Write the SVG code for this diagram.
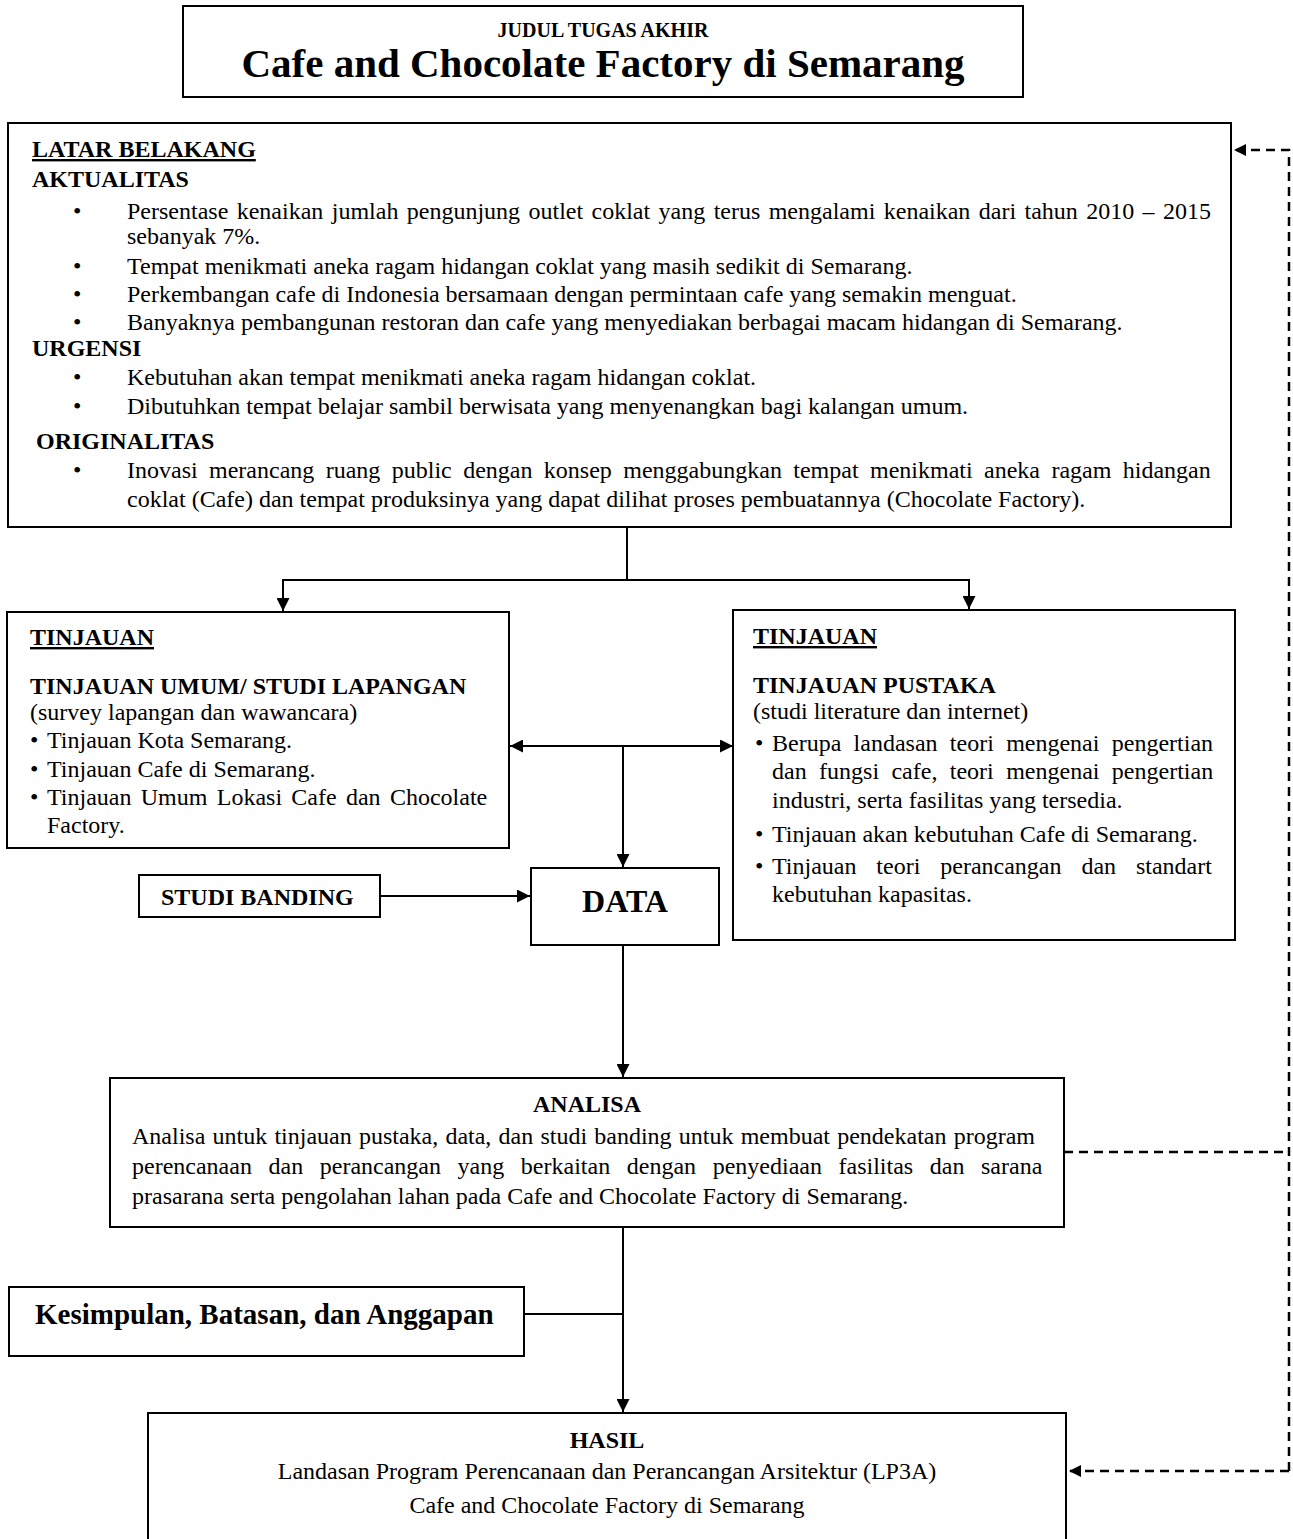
<svg xmlns="http://www.w3.org/2000/svg" width="1293" height="1539" viewBox="0 0 1293 1539">
<defs>
<marker id="arr" viewBox="0 0 10 10" refX="10" refY="5" markerWidth="13" markerHeight="13" markerUnits="userSpaceOnUse" orient="auto-start-reverse"><path d="M0,0 L10,5 L0,10 z" fill="#000"/></marker>
<marker id="arrd" viewBox="0 0 10 10" refX="10" refY="5" markerWidth="12" markerHeight="12" markerUnits="userSpaceOnUse" orient="auto"><path d="M0,0 L10,5 L0,10 z" fill="#000"/></marker>
<style>
.box{fill:#fff;stroke:#000;stroke-width:2}
.t{font-family:"Liberation Serif","Times New Roman",serif;font-size:24px;fill:#000}
.b{font-weight:bold}
.u{text-decoration:underline}
.c{text-anchor:middle}
.ln{fill:none;stroke:#000;stroke-width:2}
.dl{fill:none;stroke:#000;stroke-width:2.5;stroke-dasharray:9 6}
</style>
</defs>
<rect width="1293" height="1539" fill="#fff"/>

<g id="connectors">
<polyline class="ln" points="627,527 627,580"/>
<polyline class="ln" points="627,580 283,580 283,611" marker-end="url(#arr)"/>
<polyline class="ln" points="627,580 969,580 969,609" marker-end="url(#arr)"/>
<line class="ln" x1="510" y1="746" x2="733" y2="746" marker-start="url(#arr)" marker-end="url(#arr)"/>
<line class="ln" x1="623" y1="746" x2="623" y2="867" marker-end="url(#arr)"/>
<line class="ln" x1="380" y1="896" x2="530" y2="896" marker-end="url(#arr)"/>
<line class="ln" x1="623" y1="945" x2="623" y2="1077" marker-end="url(#arr)"/>
<line class="ln" x1="623" y1="1227" x2="623" y2="1412" marker-end="url(#arr)"/>
<line class="ln" x1="524" y1="1314" x2="623" y2="1314"/>
<polyline class="dl" points="1064,1152 1289,1152"/>
<polyline class="dl" points="1289,1471 1289,150 1234,150" marker-end="url(#arrd)"/>
<polyline class="dl" points="1289,1471 1069,1471" marker-end="url(#arrd)"/>
</g>

<g id="judul">
<rect class="box" x="183" y="6" width="840" height="91"/>
<text class="t b c" x="603" y="37" style="font-size:20px">JUDUL TUGAS AKHIR</text>
<text class="t b c" x="603" y="77" style="font-size:41px">Cafe and Chocolate Factory di Semarang</text>
</g>

<g id="latar-belakang">
<rect class="box" x="8" y="123" width="1223" height="404"/>
<text class="t b u" x="32" y="157">LATAR BELAKANG</text>
<text class="t b" x="32" y="187">AKTUALITAS</text>
<text class="t" x="73" y="219">•</text>
<text class="t" x="127" y="219" word-spacing="2.4">Persentase kenaikan jumlah pengunjung outlet coklat yang terus mengalami kenaikan dari tahun 2010 – 2015</text>
<text class="t" x="127" y="244">sebanyak 7%.</text>
<text class="t" x="73" y="274">•</text>
<text class="t" x="127" y="274">Tempat menikmati aneka ragam hidangan coklat yang masih sedikit di Semarang.</text>
<text class="t" x="73" y="302">•</text>
<text class="t" x="127" y="302">Perkembangan cafe di Indonesia bersamaan dengan permintaan cafe yang semakin menguat.</text>
<text class="t" x="73" y="330">•</text>
<text class="t" x="127" y="330">Banyaknya pembangunan restoran dan cafe yang menyediakan berbagai macam hidangan di Semarang.</text>
<text class="t b" x="32" y="356">URGENSI</text>
<text class="t" x="73" y="385">•</text>
<text class="t" x="127" y="385">Kebutuhan akan tempat menikmati aneka ragam hidangan coklat.</text>
<text class="t" x="73" y="414">•</text>
<text class="t" x="127" y="414">Dibutuhkan tempat belajar sambil berwisata yang menyenangkan bagi kalangan umum.</text>
<text class="t b" x="36" y="449">ORIGINALITAS</text>
<text class="t" x="73" y="478">•</text>
<text class="t" x="127" y="478" word-spacing="5.4">Inovasi merancang ruang public dengan konsep menggabungkan tempat menikmati aneka ragam hidangan</text>
<text class="t" x="127" y="507">coklat (Cafe) dan tempat produksinya yang dapat dilihat proses pembuatannya (Chocolate Factory).</text>
</g>

<g id="tinjauan-lapangan">
<rect class="box" x="7" y="612" width="502" height="236"/>
<text class="t b u" x="30" y="645">TINJAUAN</text>
<text class="t b" x="30" y="694">TINJAUAN UMUM/ STUDI LAPANGAN</text>
<text class="t" x="30" y="720">(survey lapangan dan wawancara)</text>
<text class="t" x="30" y="748">•</text>
<text class="t" x="47" y="748">Tinjauan Kota Semarang.</text>
<text class="t" x="30" y="777">•</text>
<text class="t" x="47" y="777">Tinjauan Cafe di Semarang.</text>
<text class="t" x="30" y="805">•</text>
<text class="t" x="47" y="805" word-spacing="3.3">Tinjauan Umum Lokasi Cafe dan Chocolate</text>
<text class="t" x="47" y="833">Factory.</text>
</g>

<g id="tinjauan-pustaka">
<rect class="box" x="733" y="610" width="502" height="330"/>
<text class="t b u" x="753" y="644">TINJAUAN</text>
<text class="t b" x="753" y="693">TINJAUAN PUSTAKA</text>
<text class="t" x="753" y="719">(studi literature dan internet)</text>
<text class="t" x="755" y="751">•</text>
<text class="t" x="772" y="751" word-spacing="6.3">Berupa landasan teori mengenai pengertian</text>
<text class="t" x="772" y="779" word-spacing="6.4">dan fungsi cafe, teori mengenai pengertian</text>
<text class="t" x="772" y="808">industri, serta fasilitas yang tersedia.</text>
<text class="t" x="755" y="842">•</text>
<text class="t" x="772" y="842">Tinjauan akan kebutuhan Cafe di Semarang.</text>
<text class="t" x="755" y="874">•</text>
<text class="t" x="772" y="874" word-spacing="13.9">Tinjauan teori perancangan dan standart</text>
<text class="t" x="772" y="902">kebutuhan kapasitas.</text>
</g>

<g id="studi-banding">
<rect class="box" x="139" y="875" width="241" height="42"/>
<text class="t b" x="161" y="905">STUDI BANDING</text>
</g>

<g id="data">
<rect class="box" x="531" y="868" width="188" height="77"/>
<text class="t b c" x="625" y="912" style="font-size:32px">DATA</text>
</g>

<g id="analisa">
<rect class="box" x="110" y="1078" width="954" height="149"/>
<text class="t b c" x="587" y="1112">ANALISA</text>
<text class="t" x="132" y="1144" word-spacing="1.2">Analisa untuk tinjauan pustaka, data, dan studi banding untuk membuat pendekatan program</text>
<text class="t" x="132" y="1174" word-spacing="10.6">perencanaan dan perancangan yang berkaitan dengan penyediaan fasilitas dan sarana</text>
<text class="t" x="132" y="1204">prasarana serta pengolahan lahan pada Cafe and Chocolate Factory di Semarang.</text>
</g>

<g id="kesimpulan">
<rect class="box" x="9" y="1287" width="515" height="69"/>
<text class="t b" x="35" y="1324" style="font-size:29px">Kesimpulan, Batasan, dan Anggapan</text>
</g>

<g id="hasil">
<rect class="box" x="148" y="1413" width="918" height="140"/>
<text class="t b c" x="607" y="1448">HASIL</text>
<text class="t c" x="607" y="1479">Landasan Program Perencanaan dan Perancangan Arsitektur (LP3A)</text>
<text class="t c" x="607" y="1513">Cafe and Chocolate Factory di Semarang</text>
</g>
</svg>
